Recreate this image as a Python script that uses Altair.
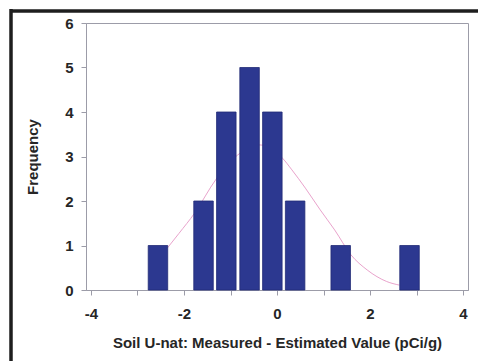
import altair as alt
import pandas as pd

# Histogram bins (centre of each bin) and their counts
bin_centers = [-2.56, -1.58, -1.09, -0.59, -0.10, 0.39, 1.37, 2.85]
frequencies = [1, 2, 4, 5, 4, 2, 1, 1]

# Fitted normal curve, sampled along the x range
curve_x = [-2.36, -2.11, -1.77, -1.31, -0.85, -0.37, 0.12, 0.32, 0.61, 0.93, 1.24, 1.59, 1.94, 2.36, 2.63]
curve_y = [0.94, 1.27, 1.73, 2.49, 3.03, 3.26, 2.96, 2.70, 2.29, 1.80, 1.35, 0.79, 0.45, 0.19, 0.11]

x_ticks = [-4, -3, -2, -1, 0, 1, 2, 3, 4]
y_ticks = [0, 1, 2, 3, 4, 5, 6]

bars_df = pd.DataFrame({"diff": bin_centers, "freq": frequencies})
curve_df = pd.DataFrame({"diff": curve_x, "freq": curve_y})

FONT = "Liberation Sans"
GRAY = "#9c9ca8"
TEXT = "#262626"

x_scale = alt.Scale(domain=[-4, 4], nice=False, zero=False)
y_scale = alt.Scale(domain=[0, 6], nice=False)

common = dict(
    grid=False, tickSize=5,
    labelFont=FONT, titleFont=FONT,
    labelFontSize=15, titleFontSize=15,
    labelFontWeight="bold", titleFontWeight="bold",
    labelColor=TEXT, titleColor=TEXT,
    domainColor=GRAY, tickColor=GRAY,
)

x_axis = alt.Axis(
    title="Soil U-nat: Measured - Estimated Value (pCi/g)",
    values=x_ticks,
    labelExpr="datum.value % 2 == 0 ? '' + datum.value : ''",
    labelPadding=11,
    titlePadding=14,
    **common,
)
y_axis = alt.Axis(
    title="Frequency",
    values=y_ticks,
    labelPadding=8,
    titlePadding=24,
    **common,
)

curve = alt.Chart(curve_df).mark_line(
    color="#e9a3cc", strokeWidth=1, interpolate="monotone"
).encode(
    x=alt.X("diff:Q", scale=x_scale, axis=x_axis),
    y=alt.Y("freq:Q", scale=y_scale, axis=y_axis),
)

bars = alt.Chart(bars_df).mark_bar(
    size=19.5, color="#2c3890", stroke="#222b76", strokeWidth=0.8
).encode(
    x=alt.X("diff:Q", scale=x_scale),
    y=alt.Y("freq:Q", scale=y_scale),
)

# Heavy border along the top and left of the figure (kept inside the canvas)
border = pd.DataFrame({"edge": ["top", "left"]})
frame_top = alt.Chart(border).transform_filter(
    alt.datum.edge == "top"
).mark_rule(color="#1e1e1e", strokeWidth=3.5).encode(
    x=alt.value(-76), x2=alt.value(392), y=alt.value(-12), y2=alt.value(-12)
)
frame_left = alt.Chart(border).transform_filter(
    alt.datum.edge == "left"
).mark_rule(color="#1e1e1e", strokeWidth=3.5).encode(
    x=alt.value(-75), x2=alt.value(-75), y=alt.value(-14), y2=alt.value(338)
)

chart = alt.layer(curve, bars, frame_top, frame_left).properties(
    width=382,
    height=267,
    background="white",
    autosize=alt.AutoSizeParams(type="none"),
    padding={"left": 86, "top": 23, "right": 13, "bottom": 74},
).configure_view(
    stroke=GRAY, strokeWidth=1
)

chart.save("out.html", embed_options={"renderer": "svg", "actions": False})
